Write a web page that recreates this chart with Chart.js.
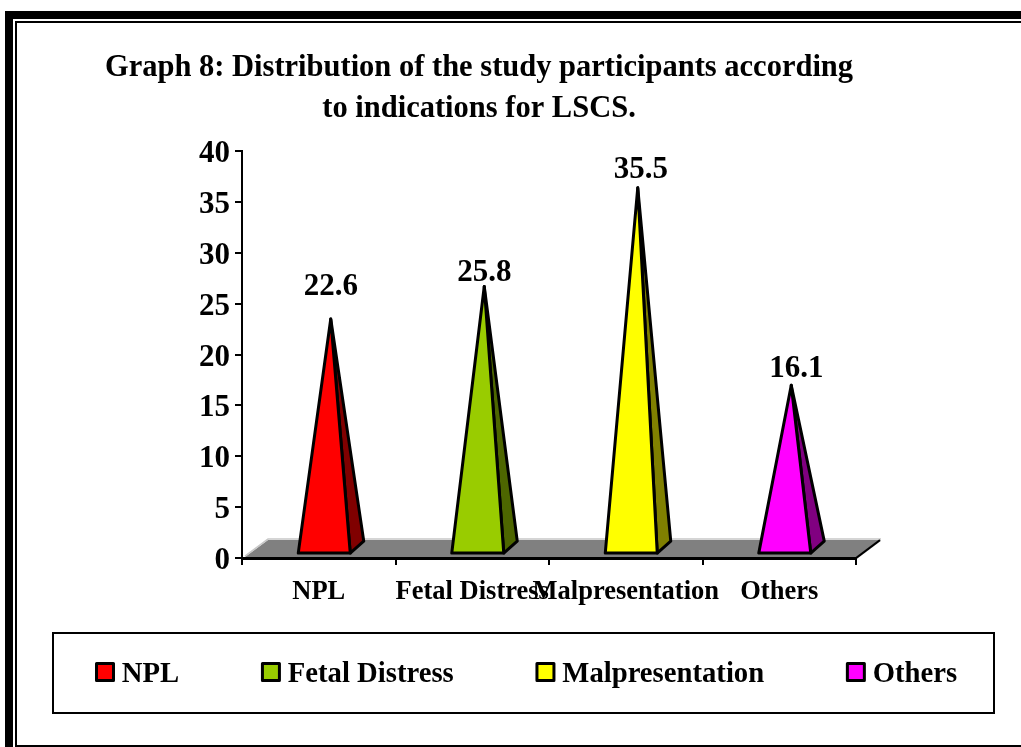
<!DOCTYPE html>
<html>
<head>
<meta charset="utf-8">
<style>html,body{margin:0;padding:0;background:#fff;overflow:hidden}canvas{display:block}</style>
<script src="https://cdn.jsdelivr.net/npm/chart.js@4"></script>
</head>
<body>
<canvas id="c" width="1021" height="747"></canvas>
<script>
const titleLines = ['Graph 8: Distribution of the study participants according', 'to indications for LSCS.'];
const categories = ['NPL', 'Fetal Distress', 'Malpresentation', 'Others'];
const values = [22.6, 25.8, 35.5, 16.1];
const frontColors = ['#ff0000', '#99cc00', '#ffff00', '#ff00ff'];
const sideColors = ['#800000', '#4d6600', '#808000', '#800080'];
const labelShiftX = [12, 12, 15, 17];
const labelShiftY = [-41, -23, -27, -25];
const FONT = '"Liberation Serif", "Times New Roman", serif';

class PyramidElement extends Chart.BarElement {
  static id = 'pyramid';
  static defaults = Chart.BarElement.defaults;
  static defaultRoutes = Chart.BarElement.defaultRoutes;
  draw(ctx) {
    const {x, y, base} = this.getProps(['x', 'y', 'base']);
    const i = this.$context ? this.$context.dataIndex : 0;
    const apexX = x + 12, apexY = y - 9, by = base - 4;
    const fl = x - 20.5, fr = x + 31.5, sx = x + 45, sy = base - 16;
    ctx.save();
    ctx.lineWidth = 3;
    ctx.strokeStyle = '#000';
    ctx.lineJoin = 'round';
    ctx.fillStyle = sideColors[i];
    ctx.beginPath();
    ctx.moveTo(apexX, apexY); ctx.lineTo(fr, by); ctx.lineTo(sx, sy); ctx.closePath();
    ctx.fill(); ctx.stroke();
    ctx.fillStyle = this.options.backgroundColor;
    ctx.beginPath();
    ctx.moveTo(apexX, apexY); ctx.lineTo(fl, by); ctx.lineTo(fr, by); ctx.closePath();
    ctx.fill(); ctx.stroke();
    ctx.restore();
  }
}
class PyramidController extends Chart.BarController {
  static id = 'pyramid';
  static defaults = {...Chart.BarController.defaults, dataElementType: 'pyramid'};
  static overrides = Chart.BarController.overrides;
}
Chart.register(PyramidElement, PyramidController);

const decor = {
  id: 'decor',
  beforeLayout(chart) {
    const l = chart.legend;
    if (!l.$wide) {
      const u = l.update.bind(l);
      l.update = (w, h, m) => u(1100, h, m);
      l.$wide = true;
    }
  },
  afterLayout(chart) {
    chart.legend.left += 13.3;
    chart.legend.right = 1100;
    chart.legend.top = 578.3;
  },
  beforeDraw(chart) {
    const c = chart.ctx;
    c.save();
    c.fillStyle = '#fff'; c.fillRect(0, 0, 1021, 747);
    c.fillStyle = '#000';
    c.fillRect(5, 11, 1016, 8);
    c.fillRect(5, 11, 8, 736);
    c.fillRect(15, 21, 1006, 2);
    c.fillRect(15, 21, 2, 726);
    c.fillRect(15, 745, 1006, 2);
    c.lineWidth = 2; c.strokeStyle = '#000';
    c.strokeRect(53, 633, 941, 80);
    c.restore();
  },
  beforeDatasetsDraw(chart) {
    const c = chart.ctx, a = chart.chartArea;
    c.save();
    c.fillStyle = '#808080';
    c.beginPath();
    c.moveTo(a.left + 3, a.bottom - 1); c.lineTo(a.left + 26, a.bottom - 18);
    c.lineTo(a.right + 25, a.bottom - 18); c.lineTo(a.right + 1, a.bottom - 1);
    c.closePath(); c.fill();
    c.lineWidth = 1.5; c.strokeStyle = '#c8c8c8';
    c.beginPath();
    c.moveTo(a.left + 3, a.bottom - 2); c.lineTo(a.left + 26, a.bottom - 19); c.lineTo(a.right + 25, a.bottom - 19);
    c.stroke();
    c.lineWidth = 2; c.strokeStyle = '#000';
    c.beginPath();
    c.moveTo(a.right, a.bottom); c.lineTo(a.right + 24, a.bottom - 18);
    c.stroke();
    c.restore();
  },
  afterDraw(chart) {
    const c = chart.ctx, meta = chart.getDatasetMeta(0);
    c.save();
    c.font = 'bold 31px ' + FONT;
    c.fillStyle = '#000'; c.textAlign = 'center'; c.textBaseline = 'middle';
    meta.data.forEach((el, i) => c.fillText(String(values[i].toFixed(1)), el.x + labelShiftX[i], el.y + labelShiftY[i]));
    chart.legend.legendHitBoxes.forEach((h, i) => {
      c.fillStyle = frontColors[i]; c.strokeStyle = '#000'; c.lineWidth = 3; c.lineJoin = 'round';
      c.fillRect(h.left + 1.5, 663.5, 17, 17);
      c.strokeRect(h.left + 1.5, 663.5, 17, 17);
    });
    c.restore();
  }
};

new Chart(document.getElementById('c'), {
  type: 'pyramid',
  data: {labels: categories, datasets: [{data: values, backgroundColor: frontColors}]},
  plugins: [decor],
  options: {
    responsive: false,
    animation: false,
    layout: {autoPadding: false, padding: {left: 0, right: 63, top: 47.5, bottom: 8.5}},
    plugins: {
      tooltip: {enabled: false},
      title: {
        display: true, text: titleLines, color: '#000',
        font: {family: FONT, size: 30.5, weight: 'bold', lineHeight: 1.344},
        padding: {top: 0, bottom: 21.5}
      },
      legend: {
        display: true, position: 'bottom', align: 'start',
        labels: {
          color: '#000', boxWidth: 12.5, boxHeight: 14, padding: 81.7,
          font: {family: FONT, size: 28.7, weight: 'bold', lineHeight: 1.213},
          generateLabels: () => categories.map((t, i) => ({text: t, fillStyle: 'rgba(0,0,0,0)', strokeStyle: 'rgba(0,0,0,0)', lineWidth: 0, index: i}))
        }
      }
    },
    scales: {
      x: {
        type: 'category', offset: true,
        afterFit(s) { s.height = 60; },
        border: {color: '#000', width: 3},
        grid: {display: true, offset: true, drawOnChartArea: false, drawTicks: true, tickLength: 7, color: '#000', lineWidth: 2},
        ticks: {color: '#000', autoSkip: false, maxRotation: 0, minRotation: 0, padding: 11, font: {family: FONT, size: 26.5, weight: 'bold'}}
      },
      y: {
        type: 'linear', min: 0, max: 40, position: 'left',
        afterFit(s) { s.width = 242; },
        border: {color: '#000', width: 2},
        grid: {display: true, drawOnChartArea: false, drawTicks: true, tickLength: 7, color: '#000', lineWidth: 2},
        ticks: {color: '#000', stepSize: 5, padding: 5, labelOffset: 3, font: {family: FONT, size: 31, weight: 'bold'}}
      },
      pad: {
        type: 'linear', position: 'right', display: true,
        afterFit(s) { s.width = 102; },
        border: {display: false}, grid: {display: false}, ticks: {display: false}
      }
    }
  }
});
</script>
</body>
</html>
